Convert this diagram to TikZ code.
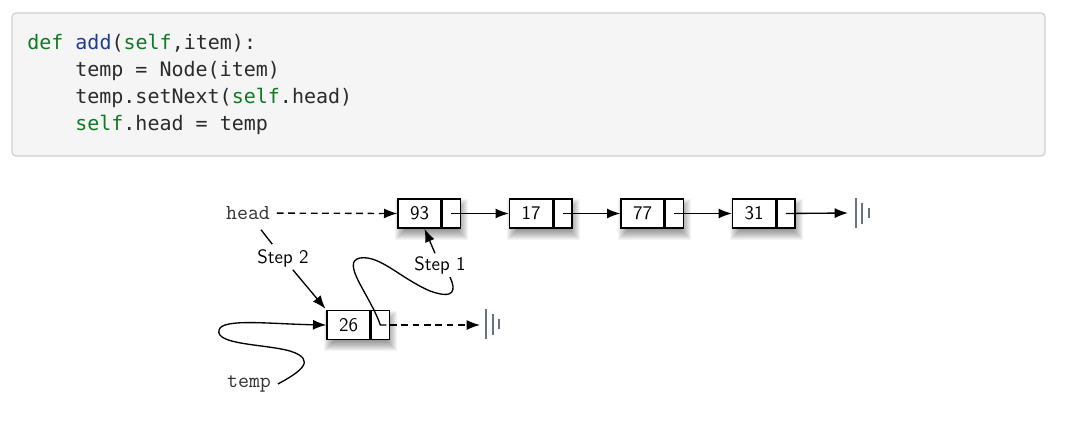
\documentclass[tikz,border=0pt]{standalone}
\usepackage{fontspec}
\newfontfamily\codefont{DejaVu Sans Mono}
\usetikzlibrary{arrows.meta,calc}
\pgfdeclarelayer{background}
\pgfsetlayers{background,main}

\definecolor{codebg}{HTML}{F5F5F5}
\definecolor{codeframe}{HTML}{CFCFCF}
\definecolor{kwgreen}{HTML}{0E7A24}
\definecolor{fnblue}{HTML}{1F3C94}
\definecolor{codetext}{HTML}{2B2B2B}
\definecolor{groundcol}{HTML}{677384}

\tikzset{
  codebox/.style={fill=codebg, draw=codeframe, line width=0.9pt, rounded corners=3pt},
  code/.style={font=\codefont\fontsize{15}{17}\selectfont, text=codetext, anchor=base west, inner sep=0pt},
  datacell/.style={draw, fill=white, line width=1pt, minimum width=32.25pt,
    minimum height=21.75pt, inner sep=0pt, font=\sffamily\fontsize{14.5}{17}\selectfont},
  ptrcell/.style={draw, fill=white, line width=1pt, minimum width=13.5pt,
    minimum height=21.75pt, inner sep=0pt, anchor=west},
  lbl/.style={font=\sffamily\fontsize{14.5}{17}\selectfont, inner sep=2pt},
  var/.style={font=\ttfamily\fontsize{16}{18}\selectfont, text=black!80, inner sep=5pt},
  link/.style={line width=1pt, -{Latex[length=10pt,width=7.5pt]}},
  dlink/.style={link, dash pattern=on 5pt off 3.5pt},
  plain/.style={line width=1pt},
  ground/.style={draw=groundcol, line width=1.5pt},
}

\begin{document}
\begin{tikzpicture}[x=0.75pt, y=-0.75pt]
  \begin{pgfonlayer}{background}
    \fill[white] (0,0) rectangle (1087,442);
  \end{pgfonlayer}
  \useasboundingbox (0,0) rectangle (1087,442);

  % code listing
  \draw[codebox] (12,13) rectangle (1045,156);
  \node[code] (c1) at (27,50)  {\textcolor{kwgreen}{def} \textcolor{fnblue}{add}(\textcolor{kwgreen}{self},item):};
  \node[code] (c2) at (75,77)  {temp = Node(item)};
  \node[code] (c3) at (75,104) {temp.setNext(\textcolor{kwgreen}{self}.head)};
  \node[code] (c4) at (75,131) {\textcolor{kwgreen}{self}.head = temp};

  % linked list cells
  \node[datacell] (d93) at (419.5,213.5) {93};
  \node[ptrcell]  (p93) at (d93.east) {};
  \node[datacell] (d17) at (531,213.5) {17};
  \node[ptrcell]  (p17) at (d17.east) {};
  \node[datacell] (d77) at (642.5,213.5) {77};
  \node[ptrcell]  (p77) at (d77.east) {};
  \node[datacell] (d31) at (754,213.5) {31};
  \node[ptrcell]  (p31) at (d31.east) {};
  \node[datacell] (d26) at (348.5,325) {26};
  \node[ptrcell]  (p26) at (d26.east) {};

  % soft shadows under the cells
  \begin{pgfonlayer}{background}
    \foreach \n in {93,17,77,31,26}{
      \foreach \o in {-5,...,5}{
        \fill[black, opacity=0.045]
          ($(d\n.north west)+({3-(\o)},{6-(\o)})$) rectangle ($(p\n.south east)+({2+(\o)},{6+(\o)})$);
      }
    }
  \end{pgfonlayer}

  % variable names and step labels
  \node[var] (head)  at (248,213) {head};
  \node[var] (temp)  at (249,384) {temp};
  \node[lbl] (step2) at (283,258) {Step 2};
  \node[lbl] (step1) at (440,265) {Step 1};

  % ground symbols (None)
  \coordinate (g1) at (855.5,213);
  \coordinate (g2) at (486,324);
  \coordinate (g1end) at (848,213);
  \coordinate (g2end) at (480,325);
  \foreach \g in {g1,g2}{
    \draw[ground] ($(\g)+(0,-15)$) -- ($(\g)+(0,15)$);
    \draw[ground] ($(\g)+(6.5,-10.5)$) -- ($(\g)+(6.5,10.5)$);
    \draw[ground] ($(\g)+(13,-5)$) -- ($(\g)+(13,5)$);
  }

  % links of the list
  \draw[dlink] (head) -- (d93.west);
  \draw[link] (p93.center) -- (d17.west);
  \draw[link] (p17.center) -- (d77.west);
  \draw[link] (p77.center) -- (d31.west);
  \draw[link] (p31.center) -- (g1end);
  \draw[dlink] (p26.east) -- (g2end);

  % step 1: new node points at the old head
  \draw[plain] ($(p26.center)+(6,0)$) -- (p26.center)
    .. controls (370,295) and (340,262) .. (360,258)
    .. controls (380,255) and (400,278) .. (430,291)
    .. controls (455,300) and (456,290) .. (450,277);
  \draw[link] (step1) -- ($(d93.south)+(5,0)$);

  % step 2: head moves to the new node
  \draw[plain, shorten <=3pt, shorten >=2pt] (head) -- (step2);
  \draw[link, shorten >=1pt] (step2) -- (d26.north west);

  % temp refers to the new node
  \draw[link] (temp.east)
    .. controls (300,372) and (318,360) .. (290,351)
    .. controls (265,344) and (215,345) .. (219,330)
    .. controls (222,318) and (270,324) .. (d26.west);
\end{tikzpicture}
\end{document}
